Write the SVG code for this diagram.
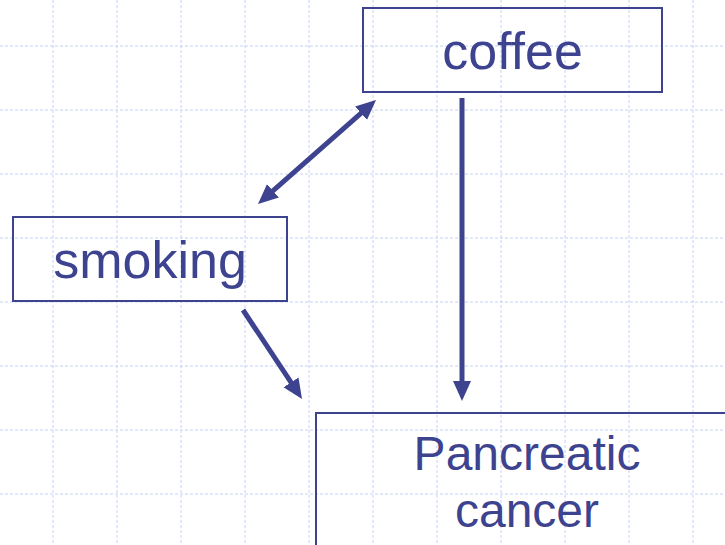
<svg xmlns="http://www.w3.org/2000/svg" width="725" height="545" viewBox="0 0 725 545">
  <defs>
    <style>
      .grid line { stroke: #c4d2f4; stroke-width: 1; stroke-dasharray: 3 2; }
      .box { fill: none; stroke: #3d438f; stroke-width: 2; }
      .label { font-family: "Liberation Sans", Arial, sans-serif; fill: #3d438f; text-anchor: middle; }
      .conn { stroke: #3d438f; stroke-width: 5; fill: none; }
    </style>
    <marker id="head" markerUnits="userSpaceOnUse" markerWidth="22" markerHeight="20" viewBox="0 0 22 20" refX="10" refY="9" orient="auto-start-reverse">
      <path d="M0,0 L20,9 L0,18 Z" fill="#3d438f"/>
    </marker>
  </defs>
  <rect width="725" height="545" fill="#ffffff"/>
  <g class="grid">
    <line x1="53" y1="0" x2="53" y2="545"/>
    <line x1="117" y1="0" x2="117" y2="545"/>
    <line x1="181" y1="0" x2="181" y2="545"/>
    <line x1="245" y1="0" x2="245" y2="545"/>
    <line x1="309" y1="0" x2="309" y2="545"/>
    <line x1="373" y1="0" x2="373" y2="545"/>
    <line x1="437" y1="0" x2="437" y2="545"/>
    <line x1="501" y1="0" x2="501" y2="545"/>
    <line x1="565" y1="0" x2="565" y2="545"/>
    <line x1="629" y1="0" x2="629" y2="545"/>
    <line x1="693" y1="0" x2="693" y2="545"/>
    <line x1="0" y1="46" x2="725" y2="46"/>
    <line x1="0" y1="110" x2="725" y2="110"/>
    <line x1="0" y1="174" x2="725" y2="174"/>
    <line x1="0" y1="238" x2="725" y2="238"/>
    <line x1="0" y1="302" x2="725" y2="302"/>
    <line x1="0" y1="366" x2="725" y2="366"/>
    <line x1="0" y1="430" x2="725" y2="430"/>
    <line x1="0" y1="494" x2="725" y2="494"/>
  </g>
  <g id="coffee">
    <rect class="box" x="363" y="8" width="299" height="84"/>
    <text class="label" x="512.5" y="69" font-size="52">coffee</text>
  </g>
  <g id="smoking">
    <rect class="box" x="13" y="217" width="274" height="84"/>
    <text class="label" x="150" y="278" font-size="52">smoking</text>
  </g>
  <g id="pancreatic-cancer">
    <rect class="box" x="316" y="413" width="422" height="150"/>
    <text class="label" x="527" y="470" font-size="48">Pancreatic</text>
    <text class="label" x="527" y="527" font-size="48">cancer</text>
  </g>
  <g id="connectors">
    <line class="conn" x1="265.5" y1="197.4" x2="368.5" y2="106.6" marker-start="url(#head)" marker-end="url(#head)"/>
    <line class="conn" x1="462" y1="98" x2="462" y2="391" marker-end="url(#head)"/>
    <line class="conn" x1="243" y1="310" x2="296.5" y2="390.7" marker-end="url(#head)"/>
  </g>
</svg>
